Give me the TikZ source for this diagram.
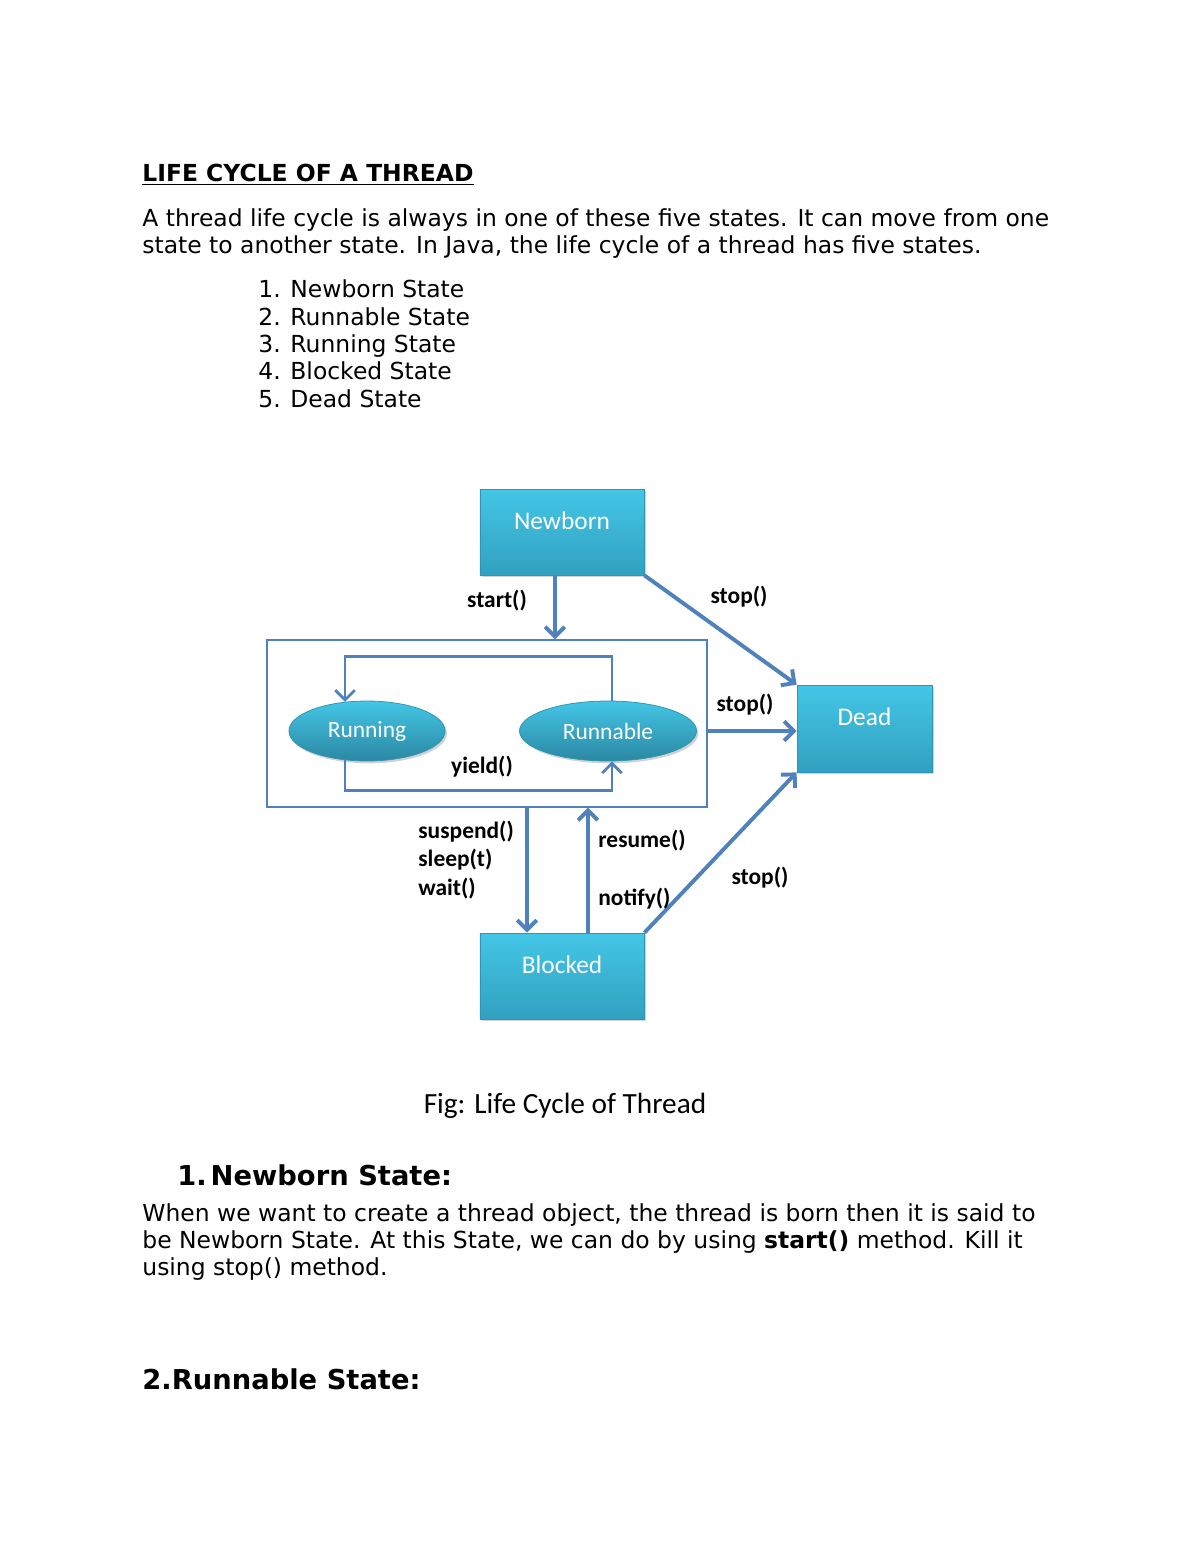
\documentclass[tikz,border=0pt]{standalone}
\usepackage{fontspec}
\setmainfont{DejaVu Sans}
\newfontfamily\carlito{Carlito}
\usetikzlibrary{shapes.geometric,shadows,arrows.meta}
\definecolor{flowblue}{RGB}{79,129,189}
\definecolor{boxtop}{RGB}{68,198,230}
\definecolor{boxbot}{RGB}{50,160,192}
\definecolor{boxline}{RGB}{45,150,180}
\tikzset{
  statebox/.style={rectangle,draw=boxline,line width=.4pt,top color=boxtop,bottom color=boxbot,
    drop shadow={opacity=.35,shadow xshift=1pt,shadow yshift=-1.2pt},text=white,inner sep=0pt,
    font=\carlito\fontsize{13}{15}\selectfont,text height=8.4pt,text depth=11.2pt},
  stateoval/.style={ellipse,draw=boxline,line width=.4pt,top color=boxtop,bottom color=boxbot!85!black,
    drop shadow={opacity=.35,shadow xshift=1pt,shadow yshift=-1.2pt},text=white,inner sep=0pt,
    minimum height=30.7pt,font=\carlito\fontsize{12}{14}\selectfont},
  flow/.style={draw=flowblue,line width=2pt,-{Straight Barb[length=5pt,width=10pt]}},
  call/.style={inner sep=0pt,font=\carlito\bfseries\fontsize{12}{14.8}\selectfont},
  body/.style={anchor=base west,inner sep=0pt,font=\fontsize{12}{13.8}\selectfont},
  head/.style={anchor=base west,inner sep=0pt,font=\bfseries\fontsize{14}{16}\selectfont}
}
\begin{document}
\begin{tikzpicture}[x=0.51191pt,y=-0.51191pt]
\path[use as bounding box,fill=white] (0,0) rectangle (1200,1553);

\node[body,font=\bfseries\fontsize{12}{13.8}\selectfont] (title) at (142,181) {\underline{LIFE CYCLE OF A THREAD}};
\node[body] (p1) at (142,226) {A thread life cycle is always in one of these five states. It can move from one};
\node[body] (p2) at (142,253) {state to another state. In Java, the life cycle of a thread has five states.};
\node[body] (l1) at (258,297) {\makebox[16.4pt][l]{1.}Newborn State};
\node[body] (l2) at (258,325) {\makebox[16.4pt][l]{2.}Runnable State};
\node[body] (l3) at (258,352) {\makebox[16.4pt][l]{3.}Running State};
\node[body] (l4) at (258,379) {\makebox[16.4pt][l]{4.}Blocked State};
\node[body] (l5) at (258,407) {\makebox[16.4pt][l]{5.}Dead State};

\node[draw=flowblue,line width=.7pt,inner sep=0pt,minimum width=225.2pt,minimum height=85.5pt] (cont) at (487,723.5) {};
\node[statebox,minimum width=84pt,minimum height=44pt] (nb) at (562,532) {Newborn};
\node[statebox,minimum width=69.1pt,minimum height=44.5pt] (dead) at (864.5,728.5) {Dead};
\node[statebox,minimum width=84pt,minimum height=44pt] (blk) at (562,976) {Blocked};
\node[stateoval,minimum width=79.9pt] (run) at (367,731) {Running};
\node[stateoval,minimum width=90.6pt] (rnb) at (608,731) {Runnable};

\draw[flow] ([xshift=-3.6pt]nb.south) -- ([xshift=-3.6pt]nb.south |- cont.north);
\draw[flow] (nb.south east) -- (dead.north west);
\draw[flow] (cont.east |- rnb) -- (dead.west |- rnb);
\draw[flow] (blk.north east) -- (dead.south west);
\draw[flow] ([xshift=-17.9pt]blk.north |- cont.south) -- ([xshift=-17.9pt]blk.north);
\draw[flow] ([xshift=13.3pt]blk.north) -- ([xshift=13.3pt]blk.north |- cont.south);
\draw[flow,line width=1.4pt] ([xshift=2pt]rnb.north) -- ++(0,-44) -| (run.127);
\draw[flow,line width=1.4pt] (run.233) -- ++(0,30) -| ([xshift=2pt]rnb.south);

\node[call] (lstart) at (497,601) {start()};
\node[call] (lstop1) at (739,597) {stop()};
\node[call] (lstop2) at (745,705) {stop()};
\node[call] (lyield) at (482,767) {yield()};
\node[call,anchor=west,align=left] (lsusp) at (418,860) {suspend()\\sleep(t)\\wait()};
\node[call,anchor=west] (lres) at (598,841) {resume()};
\node[call,anchor=west] (lnot) at (598,899) {notify()};
\node[call] (lstop3) at (760,878) {stop()};

\node[anchor=base,inner sep=0pt,font=\carlito\fontsize{15}{18}\selectfont] (cap) at (565,1113) {Fig: Life Cycle of Thread};
\node[head] (h1) at (177,1185) {1.\hspace{2pt}Newborn State:};
\node[body] (q1) at (142,1221) {When we want to create a thread object, the thread is born then it is said to};
\node[body] (q2) at (142,1248) {be Newborn State. At this State, we can do by using \textbf{start()} method. Kill it};
\node[body] (q3) at (142,1275) {using stop() method.};
\node[head] (h2) at (142,1389) {2.Runnable State:};
\end{tikzpicture}
\end{document}
